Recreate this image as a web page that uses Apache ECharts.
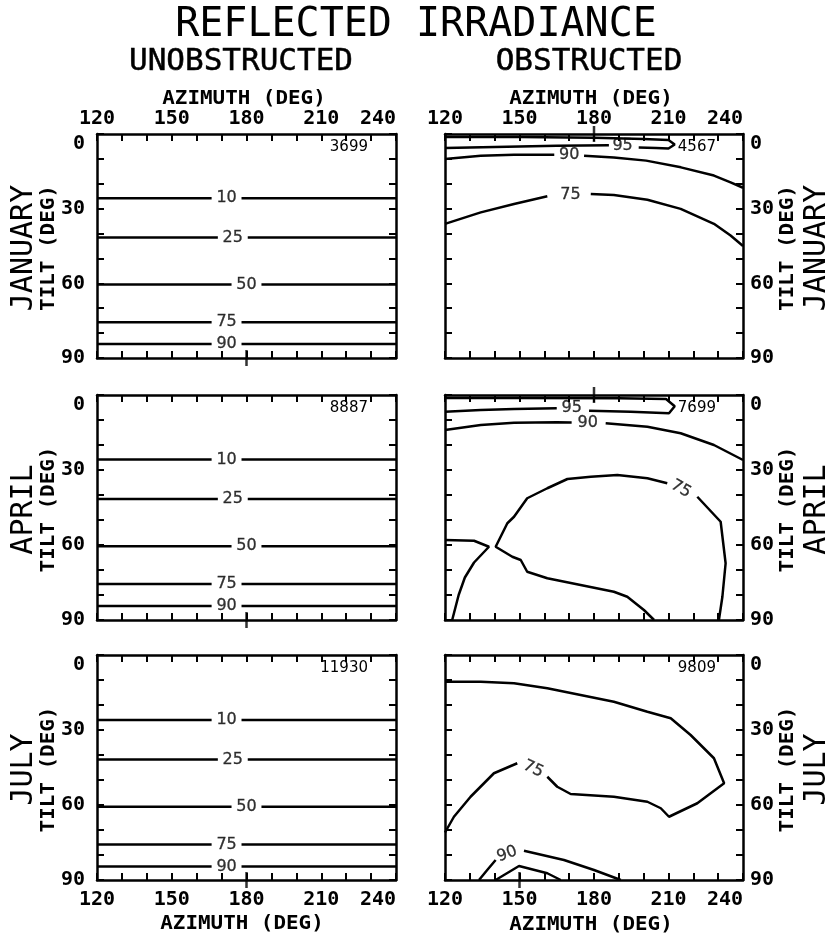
<!DOCTYPE html>
<html>
<head>
<meta charset="utf-8">
<script src="https://cdn.jsdelivr.net/npm/echarts@6/dist/echarts.min.js"></script>
<style>
html,body{margin:0;padding:0;background:#fff;}
#main{width:828px;height:935px;}
</style>
</head>
<body>
<div id="main"></div>
<script>
// ---- data ----
var azimuthTicks = [120, 150, 180, 210, 240];
var tiltTicks = [0, 30, 60, 90];
var months = ['JANUARY', 'APRIL', 'JULY'];
var unobTotals = ['3699', '8887', '11930'];
var obTotals = ['4567', '7699', '9809'];

// unobstructed: flat contours (tilt of each level), same label spots every month
var unobLevels = ['10', '25', '50', '75', '90'];
var unobTilts = [
	[25.8, 41.6, 60.5, 75.6, 84.4],
	[25.8, 41.6, 60.5, 75.6, 84.4],
	[26.0, 41.8, 60.7, 75.8, 84.6]
];
var unobLabelAz = [172, 174.5, 180, 172, 172];

// obstructed: contour pieces as [azimuth, tilt], broken where the label sits
var janObs95 = [
	[[120, 5.6], [135, 5.3], [150, 5.0], [165, 4.7], [186, 4.5]],
	[[198, 5.4], [205, 5.6], [210, 5.8], [212.5, 4.2], [210, 2.4], [200, 2.0], [180, 1.5], [150, 1.2], [120, 1.2]]
];
var janObs90 = [
	[[120, 10], [134.4, 8.7], [147.8, 8.3], [164, 8.3]],
	[[176, 8.7], [188, 9.4], [201, 10.7], [215, 13.4], [228.3, 16.7], [235, 19.4], [240, 21.6]]
];
var janObs75 = [
	[[120, 36.1], [134.4, 31.5], [147.8, 28.1], [161.2, 25]],
	[[178.7, 24.1], [188, 24.5], [201.5, 26.4], [214.9, 30.1], [228.3, 36.1], [235, 40.8], [240, 45]]
];
var janObsLabels = [[191.5, 4.8, '95', 0], [170, 8.4, '90', 0], [170.5, 24.6, '75', 0]];

var aprObs95 = [
	[[120, 6.7], [134.4, 6.0], [147.8, 5.6], [165, 5.3]],
	[[178, 6.3], [194.8, 6.7], [210.2, 7.3], [212.5, 4.5], [209, 1.6], [190, 1.3], [150, 1.2], [120, 1.2]]
];
var aprObs90 = [
	[[120, 14], [134.4, 12], [147.8, 11.1], [165, 10.9], [171, 11]],
	[[184.7, 11.3], [201.5, 12.7], [214.9, 15.3], [228.3, 20], [240, 26]]
];
var aprObs75 = [
	[[204.2, 90], [200.1, 86], [193.4, 80.7], [188, 78.7], [174.6, 76], [161.2, 73.3], [153.1, 70.7], [150.5, 66],
	 [147.1, 64.7], [140.4, 60.7], [145.1, 51.3], [147.8, 48.7], [153.1, 41.3], [161.2, 37.3], [169.3, 33.6],
	 [178.7, 32.7], [189.4, 32], [201.5, 33.3], [209.5, 35.3]],
	[[221.6, 40.7], [231, 50.7], [233, 67.3], [231.7, 80.7], [230.3, 90]],
	[[120, 58], [131.7, 58.3], [137.7, 60.7], [131.7, 67], [128, 73], [125.5, 80], [122.9, 90]]
];
var aprObsLabels = [[171, 5.3, '95', 0], [177.5, 11.3, '90', 0], [215, 37.6, '75', -30]];

var julObs75 = [
	[[120, 10.7], [134.4, 10.7], [147.8, 11.3], [161.2, 13.3], [174.6, 16], [188, 18.7], [201.5, 22.7], [210.9, 25.3],
	 [218.9, 32], [228.3, 41.3], [232.4, 51.3], [221.6, 59.3], [210.2, 64.7], [206.9, 61.3], [201.5, 58.7],
	 [188, 56.7], [170.6, 55.6], [165.2, 52.7], [161.2, 48.7]],
	[[149.1, 43.3], [139.7, 47.3], [130.3, 56.7], [123.6, 64.7], [120, 71]]
];
var julObs90 = [
	[[133.7, 90], [137, 86], [140.4, 82]],
	[[151.8, 78.3], [167.9, 82], [180, 86], [190.8, 90]]
];
var julObs95 = [
	[[140.4, 90], [149.8, 84.4], [161.2, 87.3], [166.6, 90]]
];
var julObsLabels = [[155.5, 45.6, '75', -25], [145, 79.6, '90', 20]];

var obsContours = [
	[janObs95, janObs90, janObs75],
	[aprObs95, aprObs90, aprObs75],
	[julObs75, julObs90, julObs95]
];
var obsLabels = [janObsLabels, aprObsLabels, julObsLabels];

// long plotter ticks crossing the frame: [row, col, azimuth, tilt]
var crossTicks = [[0, 0, 180, 90], [1, 0, 180, 90], [2, 0, 180, 90], [0, 1, 180, 0], [1, 1, 180, 0], [2, 1, 150, 90]];

// ---- layout ----
var colLeft = [97, 445];
var colWidth = [299, 298];
var rowTop = [134, 395, 655];
var rowHeight = [224, 225, 225];

var FONT_MONO = 'DejaVu Sans Mono';
var FONT_SANS = 'DejaVu Sans';

var grids = [], xAxes = [], yAxes = [], series = [], graphics = [];
var panelIndex = {};

function tickFmt(step) {
	return function (v) { return v % step === 0 ? String(v) : ''; };
}

function addPanel(row, col) {
	var g = grids.length;
	panelIndex[row + '_' + col] = g;
	grids.push({ left: colLeft[col], top: rowTop[row], width: colWidth[col], height: rowHeight[row], containLabel: false });
	var lineSt = { color: '#000', width: 2.5 };
	var tickSt = { color: '#000', width: 2 };
	var lab = { fontFamily: FONT_MONO, fontWeight: 'bold', fontSize: 20, color: '#000' };
	['bottom', 'top'].forEach(function (pos) {
		var showLab = (pos === 'top' && row === 0) || (pos === 'bottom' && row === 2);
		xAxes.push({
			type: 'value', gridIndex: g, position: pos, min: 120, max: 240, interval: 10,
			axisLine: { show: true, onZero: false, lineStyle: lineSt },
			axisTick: { show: true, inside: true, length: 7, lineStyle: tickSt },
			splitLine: { show: false },
			axisLabel: Object.assign({ show: showLab, formatter: tickFmt(30), margin: pos === 'top' ? 5 : 10,
				alignMaxLabel: 'right' }, lab)
		});
	});
	['left', 'right'].forEach(function (pos) {
		var showLab = (pos === 'left' && col === 0) || (pos === 'right' && col === 1);
		yAxes.push({
			type: 'value', gridIndex: g, position: pos, min: 0, max: 90, interval: 10, inverse: true,
			axisLine: { show: true, onZero: false, lineStyle: lineSt },
			axisTick: { show: true, inside: true, length: 7, lineStyle: tickSt },
			splitLine: { show: false },
			axisLabel: Object.assign({ show: showLab, formatter: tickFmt(30), margin: pos === 'left' ? 12 : 7,
				verticalAlignMinLabel: 'top' }, lab)
		});
	});
	return g;
}

function addLine(g, pts) {
	series.push({
		type: 'line', xAxisIndex: 2 * g, yAxisIndex: 2 * g, data: pts, symbol: 'none',
		lineStyle: { color: '#000', width: 2.5 }, silent: true, animation: false, clip: true
	});
}

function addLabels(g, items) {
	series.push({
		type: 'scatter', xAxisIndex: 2 * g, yAxisIndex: 2 * g, symbolSize: 0, silent: true, animation: false,
		data: items.map(function (d) {
			return {
				value: [d[0], d[1]],
				label: { show: true, position: 'inside', formatter: d[2], rotate: d[3],
					fontFamily: FONT_SANS, fontSize: 16, color: '#000', textBorderColor: '#000', textBorderWidth: 0.3 }
			};
		})
	});
}

for (var r = 0; r < 3; r++) {
	// unobstructed
	var g = addPanel(r, 0);
	var labs = [];
	unobTilts[r].forEach(function (t, i) {
		var a = unobLabelAz[i];
		addLine(g, [[120, t], [a - 6, t]]);
		addLine(g, [[a + 6, t], [240, t]]);
		labs.push([a, t, unobLevels[i], 0]);
	});
	addLabels(g, labs);
	// obstructed
	var g2 = addPanel(r, 1);
	obsContours[r].forEach(function (c) {
		c.forEach(function (seg) { addLine(g2, seg); });
	});
	addLabels(g2, obsLabels[r]);
}

crossTicks.forEach(function (c) {
	var g = panelIndex[c[0] + '_' + c[1]];
	series.push({
		type: 'scatter', xAxisIndex: 2 * g, yAxisIndex: 2 * g, symbol: 'rect', symbolSize: [2.5, 16],
		itemStyle: { color: '#000' }, data: [[c[2], c[3]]], clip: false, silent: true, animation: false
	});
});

// ---- texts ----
function txt(x, y, text, font, opts) {
	var el = {
		type: 'text', x: x, y: y, silent: true,
		style: Object.assign({ text: text, fill: '#000', align: 'center', verticalAlign: 'middle',
			textAlign: 'center', textVerticalAlign: 'middle' }, font)
	};
	return Object.assign(el, opts || {});
}
var titleFont = { fontFamily: FONT_MONO, fontSize: 40, fontWeight: 'normal' };
var headFont = { fontFamily: FONT_MONO, fontSize: 31, fontWeight: 'normal', stroke: '#000', lineWidth: 0.5 };
var monthFont = { fontFamily: FONT_MONO, fontSize: 30, fontWeight: 'normal' };
var axisNameFont = { fontFamily: FONT_MONO, fontSize: 19, fontWeight: 'bold' };
var totalFont = { fontFamily: FONT_SANS, fontSize: 15, fontWeight: 'normal', align: 'right', textAlign: 'right' };

graphics.push(txt(416, 26, 'REFLECTED IRRADIANCE', titleFont));
graphics.push(txt(241, 62, 'UNOBSTRUCTED', headFont));
graphics.push(txt(589, 62, 'OBSTRUCTED', headFont));
graphics.push(txt(244, 99, 'AZIMUTH (DEG)', axisNameFont, { scaleX: 1.1 }));
graphics.push(txt(591, 99, 'AZIMUTH (DEG)', axisNameFont, { scaleX: 1.1 }));
graphics.push(txt(242, 924, 'AZIMUTH (DEG)', axisNameFont, { scaleX: 1.1 }));
graphics.push(txt(591, 925, 'AZIMUTH (DEG)', axisNameFont, { scaleX: 1.1 }));
for (var i = 0; i < 3; i++) {
	var cy = rowTop[i] + rowHeight[i] / 2 + 2;
	graphics.push(txt(49, cy, 'TILT (DEG)', axisNameFont, { rotation: Math.PI / 2, scaleX: 1.1 }));
	graphics.push(txt(788, cy, 'TILT (DEG)', axisNameFont, { rotation: Math.PI / 2, scaleX: 1.1 }));
	graphics.push(txt(24, cy, months[i], monthFont, { rotation: Math.PI / 2 }));
	graphics.push(txt(817, cy, months[i], monthFont, { rotation: Math.PI / 2 }));
	graphics.push(txt(368, rowTop[i] + 13, unobTotals[i], totalFont));
	graphics.push(txt(716, rowTop[i] + 13, obTotals[i], totalFont));
}

var chart = echarts.init(document.getElementById('main'), null, { renderer: 'canvas' });
chart.setOption({
	animation: false,
	backgroundColor: '#fff',
	grid: grids,
	xAxis: xAxes,
	yAxis: yAxes,
	series: series,
	graphic: graphics
});
</script>
</body>
</html>
